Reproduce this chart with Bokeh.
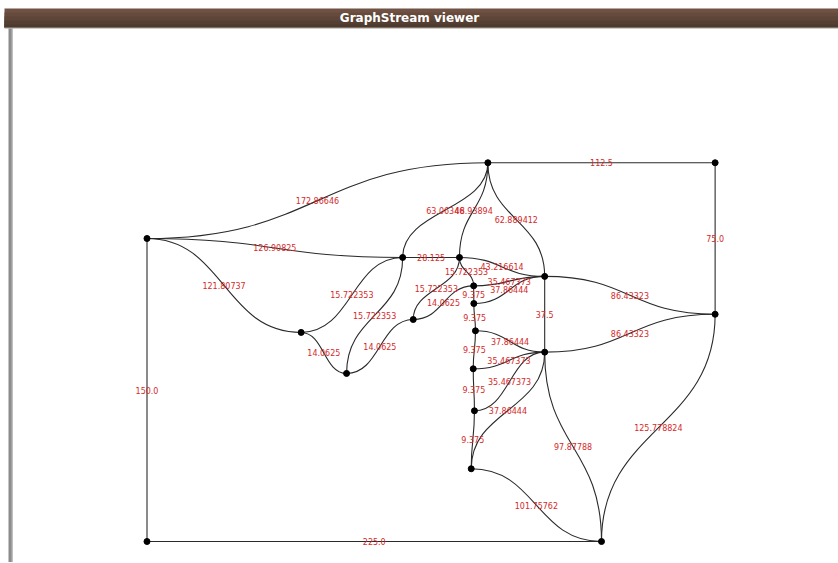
from bokeh.plotting import figure
from bokeh.models import Range1d, ColumnDataSource, BoxAnnotation, Label
from bokeh.core.properties import value
from bokeh.embed import file_html
from bokeh.resources import INLINE

# ---- data: node positions (graph units) ----
node_names = ["A", "B", "C", "D", "E", "F", "G", "H", "I", "J",
              "K", "L", "M", "N", "O", "P", "Q", "R", "S"]
node_x = [0.0, 168.75, 281.25, 281.25, 225.0, 0.0, 126.5625, 154.6875, 196.875, 161.72,
          161.8, 131.8, 76.3, 98.8, 162.6, 196.875, 161.5, 162.1, 160.5]
node_y = [150.0, 187.5, 187.5, 112.5, 0.0, 0.0, 140.625, 140.625, 131.25, 126.56,
          117.8, 109.9, 103.5, 83.2, 104.3, 93.75, 85.5, 64.7, 36.0]

# ---- data: edges and their labels ----
edge_from = ["A", "B", "C", "A", "F", "A", "A", "B", "B", "B", "G", "H",
             "H", "G", "G", "M", "N", "H", "L", "J", "K", "J", "K", "O",
             "O", "Q", "Q", "R", "R", "S", "I", "I", "P", "D", "P", "S"]
edge_to = ["B", "C", "D", "F", "E", "G", "M", "G", "H", "I", "H", "I",
           "J", "M", "N", "N", "L", "L", "J", "I", "I", "K", "O", "P",
           "Q", "P", "R", "P", "S", "P", "P", "D", "D", "E", "E", "E"]
edge_label = ["172.86646", "112.5", "75.0", "150.0", "225.0", "126.90825",
              "121.80737", "63.06346", "48.93894", "62.889412", "28.125",
              "43.216614", "15.722353", "15.722353", "15.722353", "14.0625",
              "14.0625", "15.722353", "14.0625", "35.467373", "37.86444",
              "9.375", "9.375", "37.86444", "9.375", "35.467373", "9.375",
              "35.467373", "9.375", "37.86444", "37.5", "86.43323", "86.43323",
              "125.778824", "97.87788", "101.75762"]

# ---- layout: pixel <-> graph-unit mapping ----
SCALE = 2.02           # px per graph unit
W, H = 838, 562
OX, OY = 0, 1          # page position of the canvas' top-left corner
X0 = -(146.5 - OX) / SCALE
YT = (542.0 - OY) / SCALE


def px2x(px):  # page pixel -> graph x
    return X0 + (px - OX) / SCALE


def py2y(py):  # page pixel -> graph y
    return YT - (py - OY) / SCALE


pos = {n: (x, y) for n, x, y in zip(node_names, node_x, node_y)}

x0s, y0s, x1s, y1s, cx0s, cy0s, cx1s, cy1s, mxs, mys = ([] for _ in range(10))
for a, b in zip(edge_from, edge_to):
    ax, ay = pos[a]
    bx, by = pos[b]
    dx, dy = bx - ax, by - ay
    mx, my = ax + dx / 2, ay + dy / 2
    if abs(dx) >= abs(dy):
        c1, c2 = (mx, ay), (mx, by)
    else:
        c1, c2 = (ax, my), (bx, my)
    x0s.append(ax); y0s.append(ay); x1s.append(bx); y1s.append(by)
    cx0s.append(c1[0]); cy0s.append(c1[1]); cx1s.append(c2[0]); cy1s.append(c2[1])
    mxs.append(mx); mys.append(my)

edges = ColumnDataSource(dict(x0=x0s, y0=y0s, x1=x1s, y1=y1s,
                              cx0=cx0s, cy0=cy0s, cx1=cx1s, cy1=cy1s,
                              mx=mxs, my=mys, label=edge_label))
nodes = ColumnDataSource(dict(x=node_x, y=node_y, name=node_names))

p = figure(width=W, height=H, output_backend="svg", toolbar_location=None,
           x_range=Range1d(X0, X0 + W / SCALE), y_range=Range1d(YT - H / SCALE, YT),
           min_border=0, outline_line_color=None, background_fill_color="white",
           border_fill_color="white")
p.xaxis.visible = False
p.yaxis.visible = False
p.grid.visible = False

# window title bar (gradient approximated by overlapping strips)
bar_cols = ["#6f5243", "#664b3d", "#5d4538", "#553f33", "#4d3a2f"]
for i, c in enumerate(bar_cols):
    t = 9 + i * 4
    p.add_layout(BoxAnnotation(left=px2x(4), right=px2x(845), top=py2y(t), bottom=py2y(28),
                               fill_color=c, fill_alpha=1, line_color=None, level="underlay"))
p.add_layout(BoxAnnotation(left=px2x(4), right=px2x(845), top=py2y(28), bottom=py2y(29),
                           fill_color="#a09a90", fill_alpha=1, line_color=None, level="underlay"))
# left window border
p.add_layout(BoxAnnotation(left=px2x(8), right=px2x(12), top=py2y(29), bottom=py2y(570),
                           fill_color="#8c8c8c", fill_alpha=1, line_color=None, level="underlay"))
p.add_layout(BoxAnnotation(left=px2x(11), right=px2x(12), top=py2y(29), bottom=py2y(570),
                           fill_color="#b8b8b8", fill_alpha=1, line_color=None, level="underlay"))

p.add_layout(Label(x=px2x(409), y=py2y(18.5), text="GraphStream viewer",
                   text_color="white", text_font="DejaVu Sans", text_font_style="bold",
                   text_font_size="12px", text_align="center", text_baseline="middle"))

# edges
p.bezier(x0="x0", y0="y0", x1="x1", y1="y1", cx0="cx0", cy0="cy0", cx1="cx1", cy1="cy1",
         source=edges, line_color="#2a2a2a", line_width=1.1)

# nodes
p.scatter(x="x", y="y", source=nodes, size=6, color="black")

# edge labels
p.text(x="mx", y="my", text="label", source=edges, text_color="#d42a2a",
       text_font=value("DejaVu Sans"), text_font_size="8px",
       text_align="center", text_baseline="middle")

open("out.html", "w").write(file_html(p, INLINE))
